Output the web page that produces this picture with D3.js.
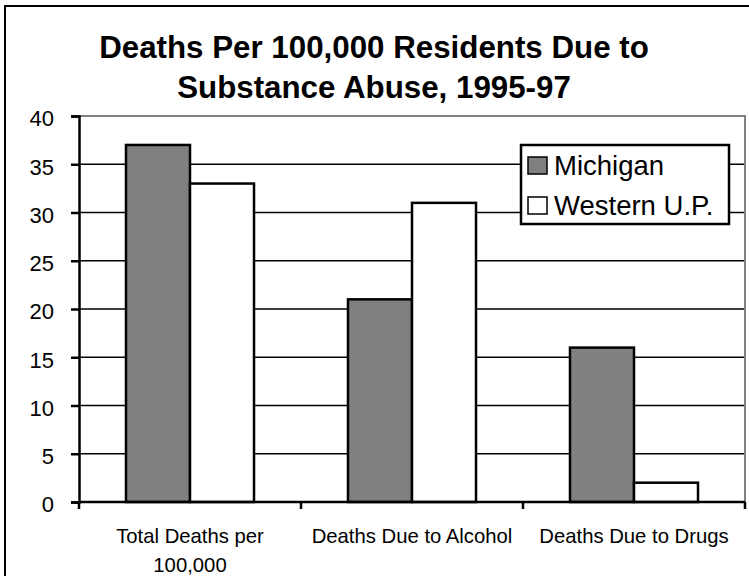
<!DOCTYPE html>
<html>
<head>
<meta charset="utf-8">
<script src="https://cdn.jsdelivr.net/npm/d3@7"></script>
<style>
  html, body { margin: 0; padding: 0; background: #fff; }
  svg { display: block; font-family: "Liberation Sans", Arial, sans-serif; }
</style>
</head>
<body>
<svg id="chart" width="749" height="576"></svg>
<script>
// Chart data
const titleLines = ["Deaths Per 100,000 Residents Due to", "Substance Abuse, 1995-97"];
const categories = ["Total Deaths per 100,000", "Deaths Due to Alcohol", "Deaths Due to Drugs"];
const categoryLines = [["Total Deaths per", "100,000"], ["Deaths Due to Alcohol"], ["Deaths Due to Drugs"]];
const seriesNames = ["Michigan", "Western U.P."];
const michigan = [37, 21, 16];
const westernUP = [33, 31, 2];
const yTicks = [0, 5, 10, 15, 20, 25, 30, 35, 40];

const seriesValues = [michigan, westernUP];
const fills = ["#808080", "#ffffff"];

const svg = d3.select("#chart");

// Outer frame
svg.append("rect")
  .attr("x", 5).attr("y", 6)
  .attr("width", 800).attr("height", 620)
  .attr("fill", "none").attr("stroke", "#000").attr("stroke-width", 2);

// Title
svg.append("text")
  .attr("text-anchor", "middle")
  .attr("font-weight", "bold")
  .attr("font-size", 31.3)
  .selectAll("tspan").data(titleLines).join("tspan")
  .attr("x", 374)
  .attr("y", (d, i) => 58 + i * 40)
  .text(d => d);

const plot = { left: 79, right: 745, top: 116, bottom: 502 };

const y = d3.scaleLinear().domain([0, 40]).range([plot.bottom, plot.top]);
const x0 = d3.scaleBand().domain(categories).range([plot.left, plot.right]).paddingInner(0).paddingOuter(0);
const x1 = d3.scaleBand().domain(seriesNames).range([0, x0.bandwidth()]).paddingInner(0).paddingOuter(0.734);

// Gridlines
svg.append("g").selectAll("line")
  .data(yTicks.filter(t => t > 0 && t < 40))
  .join("line")
  .attr("x1", plot.left).attr("x2", plot.right)
  .attr("y1", d => y(d)).attr("y2", d => y(d))
  .attr("stroke", "#000").attr("stroke-width", 1.5);

// Plot area border (top and right)
svg.append("path")
  .attr("d", `M${plot.left},${y(40)}H${plot.right}V${plot.bottom}`)
  .attr("fill", "none").attr("stroke", "#808080").attr("stroke-width", 2);

// Bars
const groups = svg.append("g").selectAll("g")
  .data(categories)
  .join("g")
  .attr("transform", d => `translate(${x0(d)},0)`);

groups.selectAll("rect")
  .data((c, ci) => seriesNames.map((s, si) => ({ s, si, v: seriesValues[si][ci] })))
  .join("rect")
  .attr("x", d => x1(d.s))
  .attr("width", x1.bandwidth())
  .attr("y", d => y(d.v))
  .attr("height", d => y(0) - y(d.v))
  .attr("fill", d => fills[d.si])
  .attr("stroke", "#000").attr("stroke-width", 2.5);

// Y axis
const yAxis = d3.axisLeft(y).tickValues(yTicks).tickSize(8).tickPadding(17).tickFormat(d3.format("d"));
const gy = svg.append("g").attr("transform", `translate(${plot.left},0)`).call(yAxis);
gy.select(".domain").attr("stroke", "#000").attr("stroke-width", 2.5);
gy.selectAll(".tick line").attr("stroke", "#000").attr("stroke-width", 2.5);
gy.selectAll(".tick text")
  .attr("font-size", 22)
  .attr("dy", "0.45em")
  .attr("font-family", "Liberation Sans, Arial, sans-serif")
  .attr("fill", "#000");

// X axis line and boundary ticks
svg.append("line")
  .attr("x1", plot.left).attr("x2", plot.right)
  .attr("y1", plot.bottom).attr("y2", plot.bottom)
  .attr("stroke", "#000").attr("stroke-width", 2.5);
const boundaries = categories.map(c => x0(c)).concat([x0(categories[categories.length - 1]) + x0.bandwidth()]);
svg.append("g").selectAll("line")
  .data(boundaries)
  .join("line")
  .attr("x1", d => d).attr("x2", d => d)
  .attr("y1", plot.bottom).attr("y2", plot.bottom + 7)
  .attr("stroke", "#000").attr("stroke-width", 2.5);

// Category labels
svg.append("g").selectAll("text")
  .data(categories)
  .join("text")
  .attr("text-anchor", "middle")
  .attr("font-size", 20.3)
  .each(function (c, i) {
    d3.select(this).selectAll("tspan")
      .data(categoryLines[i])
      .join("tspan")
      .attr("x", x0(c) + x0.bandwidth() / 2)
      .attr("y", (d, j) => 543 + j * 29)
      .text(d => d);
  });

// Legend
const legend = svg.append("g");
legend.append("rect")
  .attr("x", 521).attr("y", 145).attr("width", 208).attr("height", 79)
  .attr("fill", "#fff").attr("stroke", "#000").attr("stroke-width", 2.5);
const items = legend.selectAll("g.item")
  .data(seriesNames)
  .join("g")
  .attr("class", "item")
  .attr("transform", (d, i) => `translate(528,${157 + i * 40})`);
items.append("rect")
  .attr("width", 19).attr("height", 17)
  .attr("fill", (d, i) => fills[i])
  .attr("stroke", "#000").attr("stroke-width", 1.5);
items.append("text")
  .attr("x", 26).attr("y", 18)
  .attr("font-size", 27.5)
  .text(d => d);
</script>
</body>
</html>
